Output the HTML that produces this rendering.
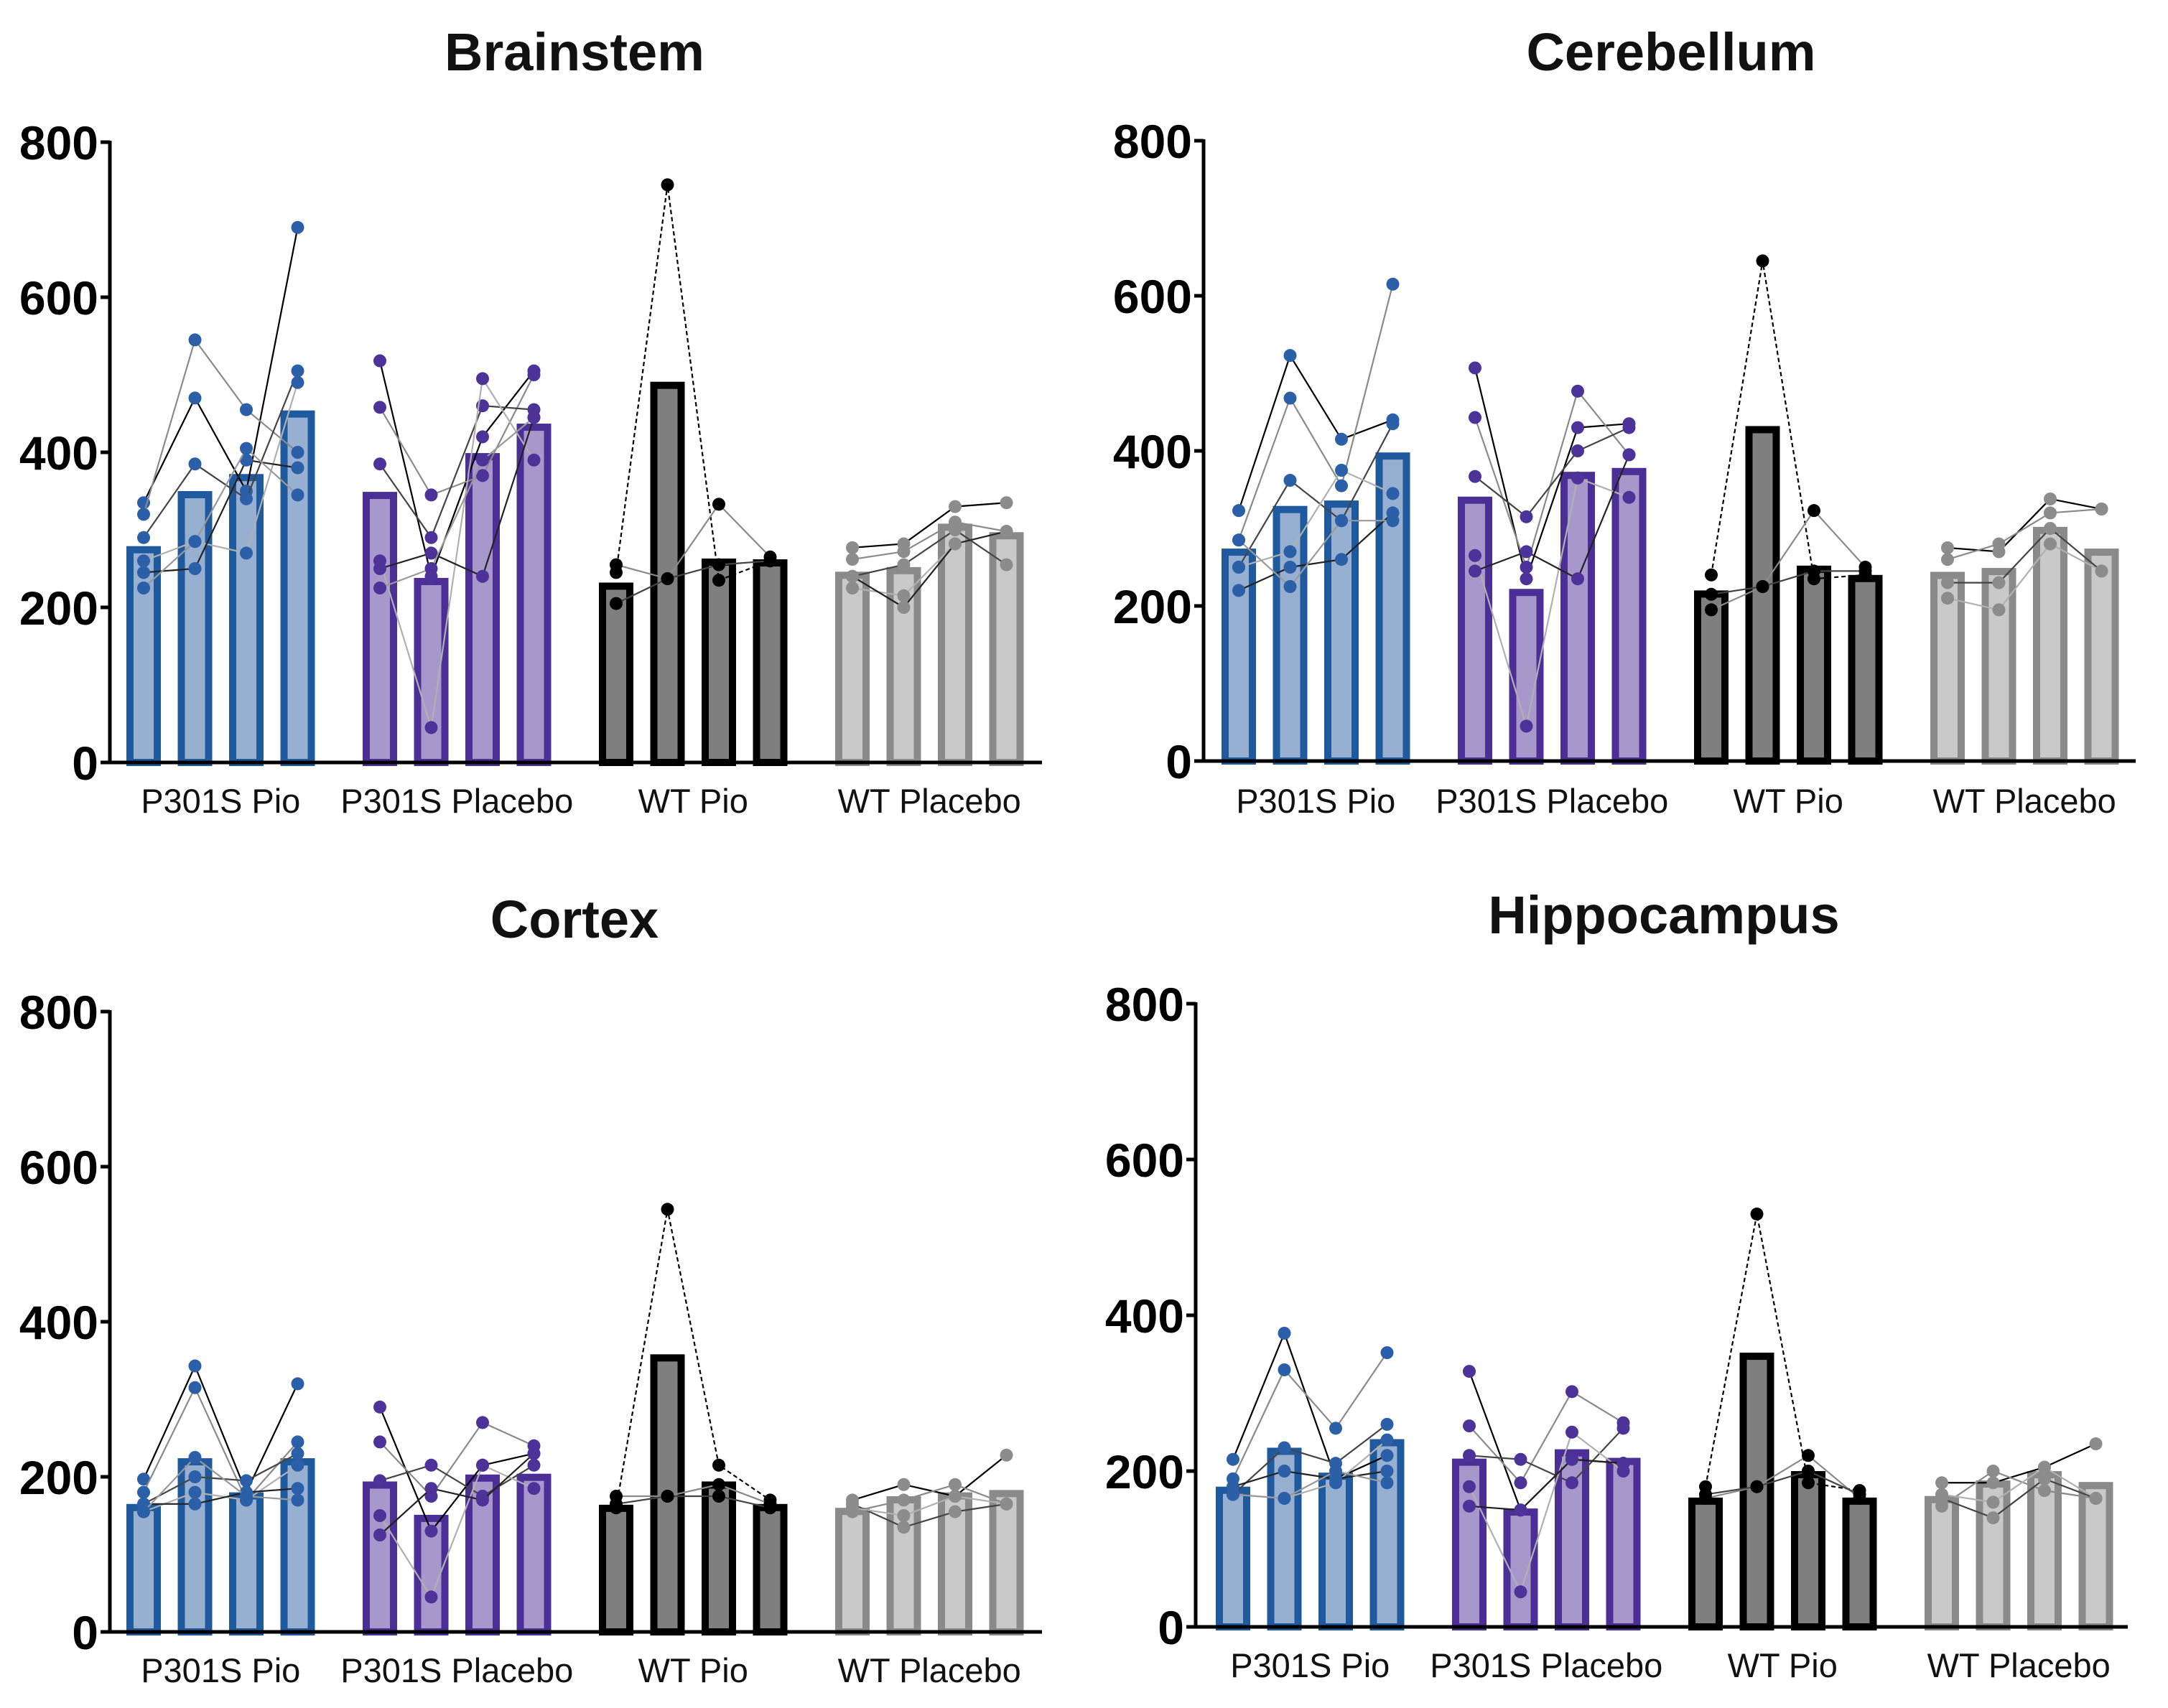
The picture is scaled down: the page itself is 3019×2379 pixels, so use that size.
<!DOCTYPE html>
<html><head><meta charset="utf-8"><style>
html,body{margin:0;padding:0;background:#fff;}
svg{display:block;font-family:"Liberation Sans",Arial,sans-serif;}
</style></head><body>
<svg id="chart" width="3019" height="2379" viewBox="0 0 3019 2379"></svg>
<script>
// ---- data ----
const categories = ["P301S Pio","P301S Placebo","WT Pio","WT Placebo"];
const yTicks = [0,200,400,600,800];
const panelTitles = ["Brainstem","Cerebellum","Cortex","Hippocampus"];
// bar means per group (4 timepoints each)
const brainstemMeans = [[279,350,372,454],[349,238,399,437],[232,491,263,262],[246,252,308,297]];
const cerebellumMeans = [[274,329,336,398],[341,222,373,378],[220,432,252,240],[244,249,302,274]];
const cortexMeans = [[165,224,180,224],[194,151,203,204],[164,358,194,165],[160,175,180,183]];
const hippocampusMeans = [[180,230,198,241],[216,152,228,217],[166,352,200,166],[168,188,200,186]];
// individual subjects (4 timepoints) per group
const brainstemSubjects = [
 [[335,470,350,690],[320,545,455,400],[290,385,340,505],[260,285,270,490],[245,250,390,380],[225,285,405,345]],
 [[518,240,420,505],[458,345,370,500],[385,290,460,455],[260,45,495,390],[250,270,240,445],[225,250,390,445]],
 [[245,745,235,260],[255,237,333,265],[205,237,255,260]],
 [[277,282,330,335],[262,272,310,298],[240,255,300,255],[225,215,282,298],[240,200,282,298]]];
const cerebellumSubjects = [
 [[323,523,415,440],[285,468,355,615],[250,362,310,435],[250,270,375,345],[220,250,260,320],[285,225,310,310]],
 [[507,235,430,435],[443,250,477,395],[367,315,400,430],[265,45,365,340],[245,270,235,395]],
 [[240,645,235,240],[195,225,323,250],[215,225,245,245]],
 [[275,270,338,325],[260,280,320,325],[230,230,300,245],[210,195,280,245]]];
const cortexSubjects = [
 [[197,343,180,320],[180,315,170,245],[165,200,195,230],[155,180,170,215],[165,165,180,185],[155,225,175,170]],
 [[290,130,215,230],[245,175,270,240],[195,215,175,215],[150,45,215,185],[125,185,170,230]],
 [[160,545,215,170],[175,175,190,165],[165,175,175,160]],
 [[170,190,175,228],[155,170,190,165],[165,135,155,165],[160,150,175,165]]];
const hippocampusSubjects = [
 [[215,377,190,220],[190,330,255,352],[170,230,210,260],[170,165,185,240],[180,200,190,200],[170,165,200,185]],
 [[328,150,215,210],[258,185,302,262],[220,215,185,255],[180,45,250,200],[155,150,215,210]],
 [[180,530,185,175],[165,180,220,165],[170,180,200,170]],
 [[185,185,205,235],[155,200,175,165],[165,140,190,165],[170,160,205,165]]];

const NS="http://www.w3.org/2000/svg";
const svg=document.getElementById('chart');
function mk(tag,attrs,parent){const e=document.createElementNS(NS,tag);for(const k in attrs)e.setAttribute(k,attrs[k]);(parent||svg).appendChild(e);return e;}

const layouts=[
 {ax:153,y0:1062,y800:198,xEnd:1451,first:200,titleX:800,titleY:98,labY:1130},
 {ax:1676,y0:1060,y800:196,xEnd:2974,first:1725,titleX:2327,titleY:98,labY:1130},
 {ax:153,y0:2273,y800:1409,xEnd:1451,first:200,titleX:800,titleY:1306,labY:2341},
 {ax:1665,y0:2266,y800:1398,xEnd:2963,first:1717,titleX:2317,titleY:1300,labY:2334}];
const meansAll=[brainstemMeans,cerebellumMeans,cortexMeans,hippocampusMeans];
const subjAll=[brainstemSubjects,cerebellumSubjects,cortexSubjects,hippocampusSubjects];
const borderCol=["#1f5a9e","#4b2f96","#000000","#8a8a8a"];
const fillCol=["#97afd1","#a797cb","#7f7f7f","#c9c9c9"];
const dotCol=["#2b5fa8","#4d3299","#000000","#8c8c8c"];
const lineCols=["#000000","#8a8a8a","#444444","#b0b0b0","#222222","#999999"];

layouts.forEach((L,p)=>{
  const g=mk('g',{});
  
  
  const yS=v=>L.y0-(v/800)*(L.y0-L.y800);
  const xS=(gi,ti)=>L.first+gi*329+ti*71.5;
  const t=mk('text',{x:L.titleX,y:L.titleY,'text-anchor':'middle','font-size':74,'font-weight':'bold',fill:'#111'},g);
  t.textContent=panelTitles[p];
  
  
  // bars
  meansAll[p].forEach((arr,gi)=>arr.forEach((v,ti)=>{
    const cx=xS(gi,ti);const top=yS(v);
    const r=mk('rect',{x:cx-19,y:top+5,width:38,height:Math.max(0,L.y0-top-5),fill:fillCol[gi],stroke:borderCol[gi],'stroke-width':10},g);
    
    
  }));
  // subject lines and dots
  subjAll[p].forEach((subs,gi)=>subs.forEach((s,si)=>{
    const pts=s.map((v,ti)=>xS(gi,ti)+','+yS(v)).join(' ');
    const pl=mk('polyline',{points:pts,fill:'none',stroke:lineCols[si%lineCols.length],'stroke-width':2.2,'stroke-dasharray':(gi===2&&si===0)?'6,4':'none'},g);
    
    
    s.forEach((v,ti)=>{
      const c=mk('circle',{cx:xS(gi,ti),cy:yS(v),r:9,fill:dotCol[gi]},g);
      
      
    });
  }));
  // axes
  const ya=mk('line',{x1:L.ax,y1:L.y800-2,x2:L.ax,y2:L.y0+2,stroke:'#000','stroke-width':5},g);
  
  
  const xa=mk('line',{x1:L.ax-2,y1:L.y0,x2:L.xEnd,y2:L.y0,stroke:'#000','stroke-width':5},g);
  
  
  yTicks.forEach(v=>{
    const y=yS(v);
    mk('line',{x1:L.ax-13,y1:y,x2:L.ax,y2:y,stroke:'#000','stroke-width':5},g);
    const tl=mk('text',{x:L.ax-16,y:y+24,'text-anchor':'end','font-size':66,'font-weight':'bold',fill:'#000'},g);
    tl.textContent=v;
    
    
  });
  categories.forEach((c,gi)=>{
    const cl=mk('text',{x:xS(gi,1.5),y:L.labY+2,'text-anchor':'middle','font-size':47,fill:'#111'},g);
    cl.textContent=c;
    
    
  });
});
</script>
</body></html>
